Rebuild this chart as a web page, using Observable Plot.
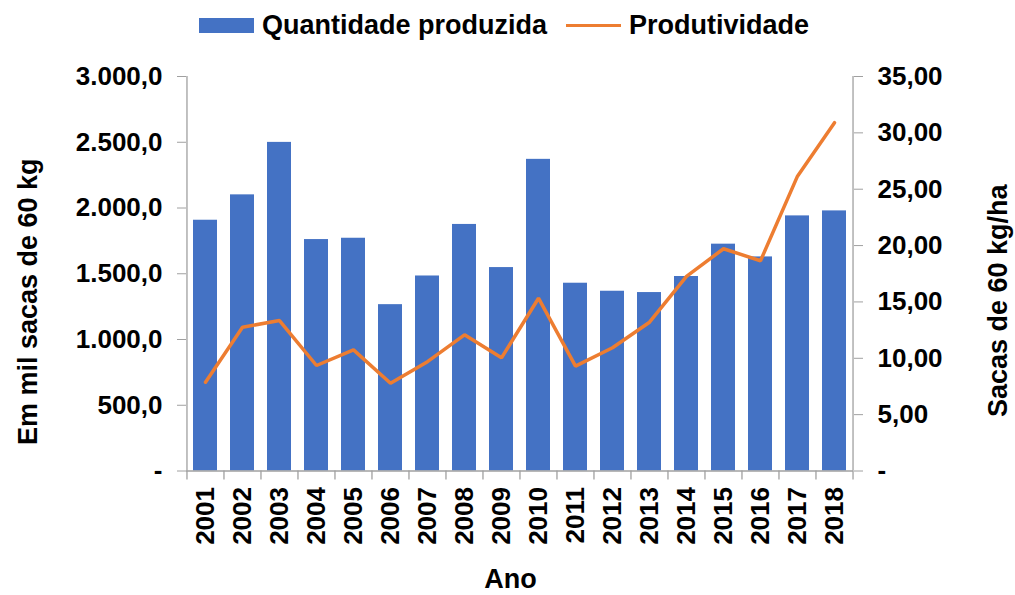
<!DOCTYPE html>
<html>
<head>
<meta charset="utf-8">
<script src="https://cdn.jsdelivr.net/npm/d3@7"></script>
<script src="https://cdn.jsdelivr.net/npm/@observablehq/plot@0.6"></script>
<style>
  html, body { margin: 0; padding: 0; background: #fff; }
  body { font-family: "Liberation Sans", Arial, sans-serif; width: 1015px; }
  #legend { position: relative; width: 1015px; height: 50px; }
  #legend .lt { position: absolute; top: 12px; font-size: 27px; font-weight: bold; line-height: 27px; color: #000; white-space: nowrap; }
  #legend .sw { position: absolute; }
</style>
</head>
<body>
<div id="legend">
  <div class="sw" style="left:199px;top:18px;width:55px;height:15px;background:#4472C4"></div>
  <div class="lt" style="left:262px">Quantidade produzida</div>
  <div class="sw" style="left:566px;top:23.5px;width:55px;height:3px;background:#ED7D31"></div>
  <div class="lt" style="left:629px">Produtividade</div>
</div>
<div id="chart"></div>
<script>
const years = [2001, 2002, 2003, 2004, 2005, 2006, 2007, 2008, 2009, 2010, 2011, 2012, 2013, 2014, 2015, 2016, 2017, 2018];
const quantidade = [1907, 2100, 2499, 1760, 1770, 1265, 1483, 1875, 1547, 2370, 1428, 1367, 1357, 1479, 1725, 1628, 1940, 1978];
const produtividade = [7.88, 12.76, 13.35, 9.36, 10.75, 7.79, 9.7, 12.08, 10.04, 15.33, 9.30, 10.93, 13.2, 17.26, 19.72, 18.65, 26.16, 30.9];
const leftTicks = [0, 500, 1000, 1500, 2000, 2500, 3000];
const rightTicks = [0, 5, 10, 15, 20, 25, 30, 35];

const leftMax = 3000, rightMax = 35;
const k = leftMax / rightMax;

const data = years.map((y, i) => ({year: y, q: quantidade[i], p: produtividade[i]}));

const loc = d3.formatLocale({decimal: ",", thousands: ".", grouping: [3], currency: ["R$", ""]});
const fmt1 = loc.format(",.1f");
const fmt2 = loc.format(",.2f");

const W = 1015, H = 545;
const mL = 186, mR = 162, mT = 26, mB = 124.5;
const step = (W - mL - mR) / years.length;
const axisColor = "#a0a0a0";

const chart = Plot.plot({
  width: W,
  height: H,
  marginLeft: mL,
  marginRight: mR,
  marginTop: mT,
  marginBottom: mB,
  style: {fontFamily: "Liberation Sans, Arial, sans-serif", fontSize: "26px", fontWeight: "bold", color: "#000", background: "#fff"},
  x: {domain: years, paddingInner: 0.34, paddingOuter: 0.17, label: null},
  y: {domain: [0, leftMax], label: null},
  marks: [
    Plot.barY(data, {x: "year", y: "q", fill: "#4472C4"}),
    Plot.ruleY([0], {stroke: axisColor, strokeWidth: 1.3}),
    Plot.ruleX([years[0]], {x: d => d, y1: 0, y2: leftMax, dx: -step / 2, stroke: axisColor, strokeWidth: 1.3}),
    Plot.ruleX([years[years.length - 1]], {x: d => d, y1: 0, y2: leftMax, dx: step / 2, stroke: axisColor, strokeWidth: 1.3}),
    Plot.ruleX(years, {x: d => d, y1: 0, y2: 0, insetBottom: -9, dx: -step / 2, stroke: axisColor, strokeWidth: 1.3}),
    Plot.ruleX([years[years.length - 1]], {x: d => d, y1: 0, y2: 0, insetBottom: -9, dx: step / 2, stroke: axisColor, strokeWidth: 1.3}),
    Plot.line(data, {x: "year", y: d => d.p * k, stroke: "#ED7D31", strokeWidth: 3.5, strokeLinejoin: "miter"}),
    Plot.axisY({anchor: "left", ticks: leftTicks, tickSize: 9, tickPadding: 15, stroke: axisColor, fill: "#000",
      tickFormat: d => d === 0 ? "-" : fmt1(d), label: null}),
    Plot.axisY({anchor: "right", ticks: rightTicks.map(v => v * k), tickSize: 9, tickPadding: 15, stroke: axisColor, fill: "#000",
      tickFormat: d => Math.abs(d) < 1e-9 ? "-" : fmt2(d / k), label: null}),
    Plot.axisX({anchor: "bottom", tickSize: 0, tickPadding: 16, tickRotate: -90, fill: "#000", tickFormat: d => String(d), label: null}),
    Plot.text(["Em mil sacas de 60 kg"], {text: d => d, frameAnchor: "left", rotate: -90, dx: -150, dy: 28,
      textAnchor: "middle", lineAnchor: "bottom", fontSize: 27, fontWeight: "bold", fill: "#000"}),
    Plot.text(["Sacas de 60 kg/ha"], {text: d => d, frameAnchor: "right", rotate: -90, dx: 153, dy: 27,
      textAnchor: "middle", lineAnchor: "bottom", fontSize: 27, fontWeight: "bold", fill: "#000"}),
    Plot.text(["Ano"], {text: d => d, frameAnchor: "bottom", dx: -9.5, dy: 117,
      textAnchor: "middle", lineAnchor: "bottom", fontSize: 27, fontWeight: "bold", fill: "#000"})
  ]
});
document.getElementById("chart").appendChild(chart);
</script>
</body>
</html>
